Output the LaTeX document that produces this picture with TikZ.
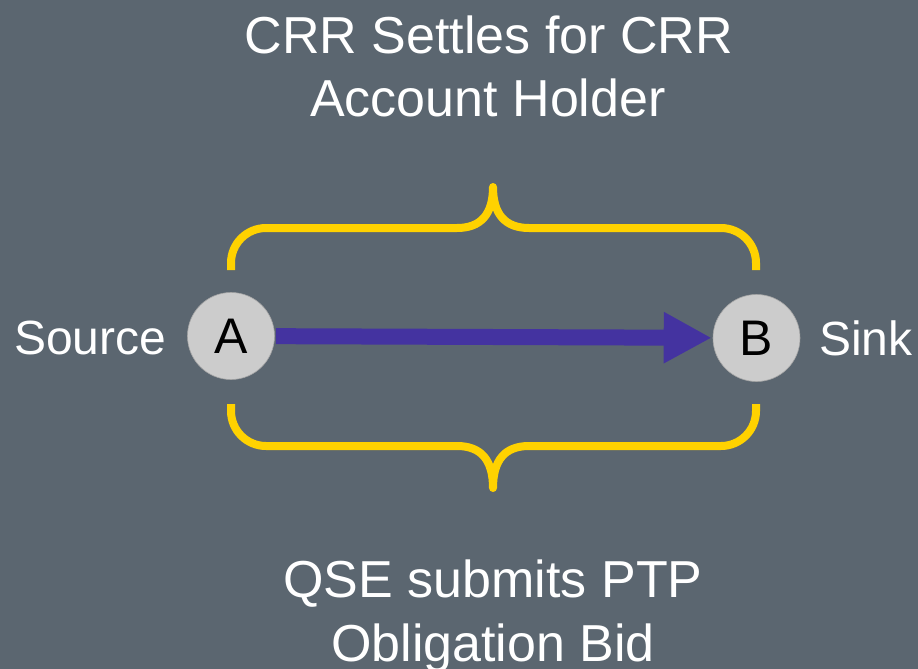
\documentclass[tikz,border=0pt]{standalone}
\usepackage{fontspec}
\setmainfont{Liberation Sans}
\usetikzlibrary{arrows.meta}
\definecolor{bgc}{RGB}{91,102,112}
\definecolor{brc}{RGB}{255,210,0}
\definecolor{arc}{RGB}{68,51,160}
\definecolor{ndc}{RGB}{204,204,204}
\begin{document}
\begin{tikzpicture}[x=1pt,y=-1pt,
  pt/.style={circle,fill=ndc,draw=gray!70,line width=0.6pt,minimum size=87pt,inner sep=0pt,
    font=\fontsize{50}{60}\selectfont,text=black},
  bigtxt/.style={anchor=base,inner sep=0pt,text=white,font=\fontsize{52}{63}\selectfont},
  sidetxt/.style={anchor=base west,inner sep=0pt,text=white,font=\fontsize{48}{56}\selectfont},
  brace/.style={draw=brc,line width=8pt,line cap=butt,line join=round},
  flow/.style={draw=arc,line width=16pt,-{Triangle[length=48pt,width=48pt]}}]
\clip (0,0) rectangle (918,669);
\fill[bgc] (0,0) rectangle (918,669);
% top text
\node[bigtxt] (t1) at (489,53) {CRR Settles for CRR};
\node[bigtxt] (t2) at (488,116) {Account Holder};
% bottom text
\node[bigtxt] (b1) at (493,597) {QSE submits PTP};
\node[bigtxt] (b2) at (493,661) {Obligation Bid};
% braces
\path[brace] (231,270) -- (231,263) arc[start angle=180,end angle=270,radius=35] -- (457,228)
  .. controls (481,228) and (493,214) .. (493,187)
  .. controls (493,214) and (505,228) .. (529,228) -- (721,228)
  arc[start angle=270,end angle=360,radius=35] -- (756,270);
\path[brace] (231,404) -- (231,411) arc[start angle=180,end angle=90,radius=35] -- (457,446)
  .. controls (481,446) and (493,460) .. (493,488)
  .. controls (493,460) and (505,446) .. (529,446) -- (721,446)
  arc[start angle=90,end angle=0,radius=35] -- (756,404);
% nodes
\node[pt] (A) at (231,336) {A};
\node[pt] (B) at (756.5,338) {B};
\node[sidetxt] (src) at (14,354) {Source};
\node[sidetxt] (snk) at (819,355) {Sink};
\draw[flow,shorten <=1pt,shorten >=1pt] (A) -- (B);
\end{tikzpicture}
\end{document}
